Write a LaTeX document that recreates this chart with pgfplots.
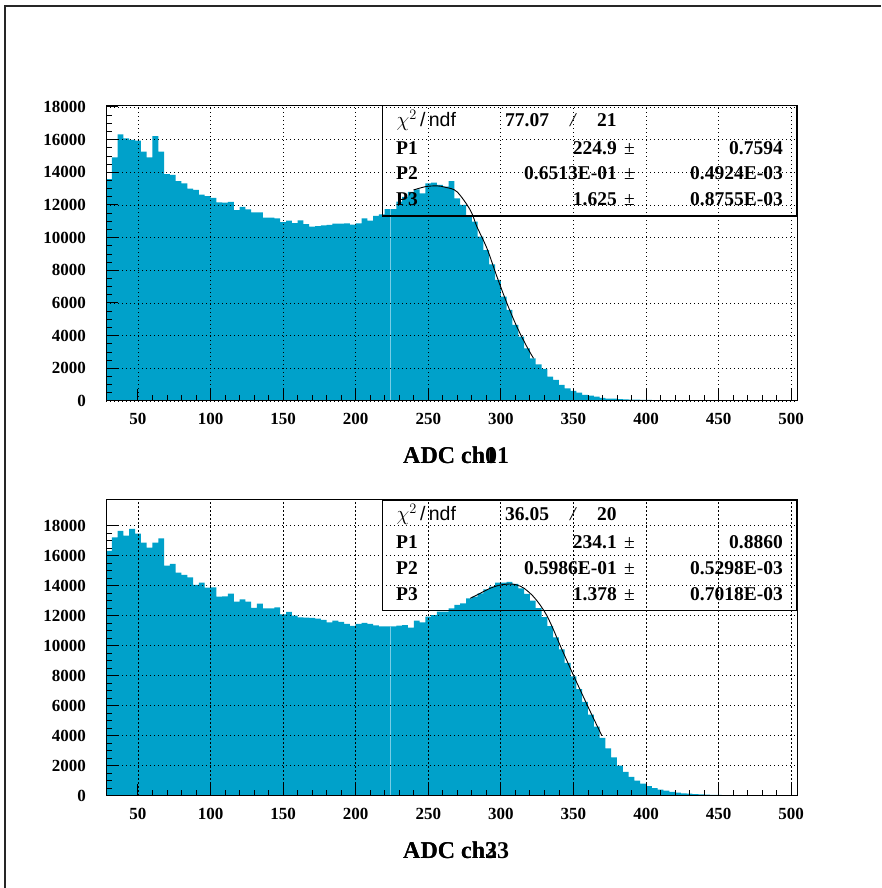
\documentclass[border=0pt]{standalone}
\usepackage{fontspec}
\setmainfont{Liberation Serif}
\newfontfamily\helv{Liberation Sans}
\usepackage{pgfplots}
\usepackage{pgfplotstable}
\pgfplotsset{compat=1.18}
\definecolor{hblue}{RGB}{0,161,202}
\definecolor{hline}{RGB}{120,205,230}

\pgfplotstableread{
x y
28 13590
32 14917
36 16327
40 16082
44 15979
48 15937
52 15263
56 14917
60 16223
64 15263
68 13897
72 13836
76 13468
80 13325
84 13000
88 12918
92 12632
96 12550
100 12428
104 12163
108 12142
112 12183
116 11693
120 11877
124 11734
128 11550
132 11550
136 11223
140 11223
144 11182
148 10958
152 11040
156 10897
160 11060
164 10836
168 10672
172 10713
176 10754
180 10775
184 10856
188 10856
192 10877
196 10795
200 10877
204 11182
208 11040
212 11326
216 11428
220 11754
224 11754
228 12203
232 12500
236 12800
240 12960
244 12714
248 13325
252 13366
256 13224
260 13121
264 13468
268 12400
272 12000
276 11387
280 10979
284 10060
288 9244
292 8367
296 7408
300 6387
304 5571
308 4653
312 3939
316 3224
320 2612
324 2245
328 1959
332 1490
336 1286
340 980
344 775
348 612
352 510
356 367
360 327
364 265
368 184
372 143
376 143
380 120
384 100
388 90
392 80
396 70
400 62
404 55
408 50
412 45
416 42
420 38
424 35
428 32
432 30
436 27
440 25
444 22
448 20
452 20
456 18
460 16
464 15
468 14
472 12
476 12
480 10
484 10
488 9
492 8
496 8
500 7
504 7
}\topdata

\pgfplotstableread{
x y
28 16313
32 17226
36 17647
40 17336
44 17780
48 17470
52 16868
56 16534
60 16868
64 17160
68 15336
72 15447
76 14868
80 14714
84 14560
88 14047
92 14202
96 13869
100 13891
104 13269
108 13291
112 13469
116 12935
120 13091
124 12935
128 12513
132 12802
136 12491
140 12491
144 12557
148 12091
152 12247
156 12002
160 11891
164 11869
168 11847
172 11802
176 11713
180 11558
184 11669
188 11580
192 11447
196 11313
200 11447
204 11514
208 11447
212 11358
216 11291
220 11291
224 11291
228 11333
232 11378
236 11200
240 11667
244 11556
248 11933
252 12044
256 12267
260 12267
264 12491
268 12713
272 12824
276 13158
280 13269
284 13491
288 13758
292 13936
296 14202
300 14202
304 14247
308 14113
312 13825
316 13450
320 13000
324 12500
328 11900
332 11300
336 10550
340 9750
344 8850
348 7950
352 7100
356 6250
360 5400
364 4600
368 3850
372 3150
376 2550
380 2000
384 1580
388 1250
392 1000
396 800
400 640
404 510
408 410
412 330
416 260
420 200
424 160
428 130
432 105
436 85
440 70
444 58
448 48
452 40
456 34
460 28
464 24
468 20
472 17
476 15
480 13
484 11
488 10
492 9
496 8
500 7
504 7
}\botdata

\pgfplotsset{adcstyle/.style={
  scale only axis, width=691pt,
  xmin=28, xmax=504, ymin=0,
  xtick={50,100,...,500},
  xticklabels={50,100,150,200,250,300,350,400,450,500},
  ytick={0,2000,...,18000},
  yticklabels={0,2000,4000,6000,8000,10000,12000,14000,16000,18000},
  minor x tick num=4, minor y tick num=3,
  tick align=inside, tick pos=left,
  major tick length=12pt, minor tick length=6pt,
  major tick style={black, line width=1pt},
  minor tick style={black, line width=0.8pt},
  grid=major,
  major grid style={black, line width=0.8pt, dash pattern=on 1.3pt off 2.7pt},
  axis on top,
  axis line style={black, line width=1pt},
  ticklabel style={font=\bfseries\fontsize{17}{17}\selectfont, inner sep=0pt},
  xticklabel style={anchor=north, yshift=-12pt},
  yticklabel style={anchor=east, xshift=-20pt},
  scaled ticks=false,
}}

\begin{document}
\begin{tikzpicture}
\path[use as bounding box] (0pt,0pt) rectangle (881pt,888pt);
\draw[line width=1.2pt, black!85] (5pt,0pt) -- (5pt,882pt) -- (881pt,882pt);

% ---------- top panel ----------
\begin{axis}[adcstyle, at={(106pt,487pt)}, anchor=south west, height=295pt, ymax=18061]
\addplot[fill=hblue, draw=none, const plot] table[x=x,y=y] {\topdata} \closedcycle;
\addplot[hline, line width=0.7pt] coordinates {(223.9,0) (223.9,11754)};
\addplot[black, line width=0.9pt, smooth, tension=0.55] coordinates {
(239.8,12917) (248,13120) (255.9,13170) (262,13080) (269.7,12815) (278.9,11693)
(283.5,10672) (290.4,9346) (297.3,7612) (304.2,5980) (311,4551) (317.9,3326) (322.5,2612)};
\end{axis}

% ---------- bottom panel ----------
\begin{axis}[adcstyle, at={(106pt,92.3pt)}, anchor=south west, height=295.7pt, ymax=19713]
\addplot[fill=hblue, draw=none, const plot] table[x=x,y=y] {\botdata} \closedcycle;
\addplot[hline, line width=0.7pt] coordinates {(223.9,0) (223.9,11291)};
\addplot[black, line width=0.9pt, smooth, tension=0.55] coordinates {
(278.9,13160) (283.5,13380) (292.6,13827) (299,14030) (306,14113) (311,14050)
(316,13827) (322,13320) (327,12720) (331.7,12000) (336.3,11050) (340.9,10000)
(345.5,9000) (350.1,8000) (354.9,7000) (359.7,6000) (364.6,5000) (369.6,4000)};
\end{axis}

% ---------- stat boxes ----------
\begin{scope}[every node/.style={inner sep=0pt, font=\bfseries\fontsize{19.5}{19.5}\selectfont}]
\draw[line width=1.2pt] (382.3pt,672pt) rectangle (796.7pt,782.5pt);
\node[anchor=base west] at (396.5pt,761.3pt) {\mdseries$\chi^{2}$\,{\helv /\,ndf}};
\node[anchor=base west] at (505pt,761.3pt) {77.07};
\node[anchor=base west] at (570pt,761.3pt) {\mdseries\itshape /};
\node[anchor=base west] at (597pt,761.3pt) {21};
\node[anchor=base west] at (396pt,733pt) {P1};
\node[anchor=base east] at (617pt,733pt) {224.9};
\node[anchor=base west] at (624pt,733pt) {\mdseries ±};
\node[anchor=base east] at (783pt,733pt) {0.7594};
\node[anchor=base west] at (396pt,708.7pt) {P2};
\node[anchor=base east] at (617pt,708.7pt) {0.6513E-01};
\node[anchor=base west] at (624pt,708.7pt) {\mdseries ±};
\node[anchor=base east] at (783pt,708.7pt) {0.4924E-03};
\node[anchor=base west] at (396pt,682pt) {P3};
\node[anchor=base east] at (617pt,682pt) {1.625};
\node[anchor=base west] at (624pt,682pt) {\mdseries ±};
\node[anchor=base east] at (783pt,682pt) {0.8755E-03};

\draw[line width=1.2pt] (382.3pt,277.3pt) rectangle (796.7pt,388pt);
\node[anchor=base west] at (396.5pt,367pt) {\mdseries$\chi^{2}$\,{\helv /\,ndf}};
\node[anchor=base west] at (505pt,367pt) {36.05};
\node[anchor=base west] at (570pt,367pt) {\mdseries\itshape /};
\node[anchor=base west] at (597pt,367pt) {20};
\node[anchor=base west] at (396pt,339.7pt) {P1};
\node[anchor=base east] at (617pt,339.7pt) {234.1};
\node[anchor=base west] at (624pt,339.7pt) {\mdseries ±};
\node[anchor=base east] at (783pt,339.7pt) {0.8860};
\node[anchor=base west] at (396pt,313.7pt) {P2};
\node[anchor=base east] at (617pt,313.7pt) {0.5986E-01};
\node[anchor=base west] at (624pt,313.7pt) {\mdseries ±};
\node[anchor=base east] at (783pt,313.7pt) {0.5298E-03};
\node[anchor=base west] at (396pt,287pt) {P3};
\node[anchor=base east] at (617pt,287pt) {1.378};
\node[anchor=base west] at (624pt,287pt) {\mdseries ±};
\node[anchor=base east] at (783pt,287pt) {0.7018E-03};
\end{scope}

% ---------- axis titles (two overlapping strings, as in the reference) ----------
\begin{scope}[every node/.style={inner sep=0pt, anchor=base west, font=\bfseries\fontsize{24}{24}\selectfont}]
\node at (403pt,424.7pt) {ADC ch01};
\node at (403pt,424.7pt) {ADC ch1};
\node at (403pt,29.7pt) {ADC ch23};
\node at (403pt,29.7pt) {ADC ch3};
\end{scope}
\end{tikzpicture}
\end{document}
